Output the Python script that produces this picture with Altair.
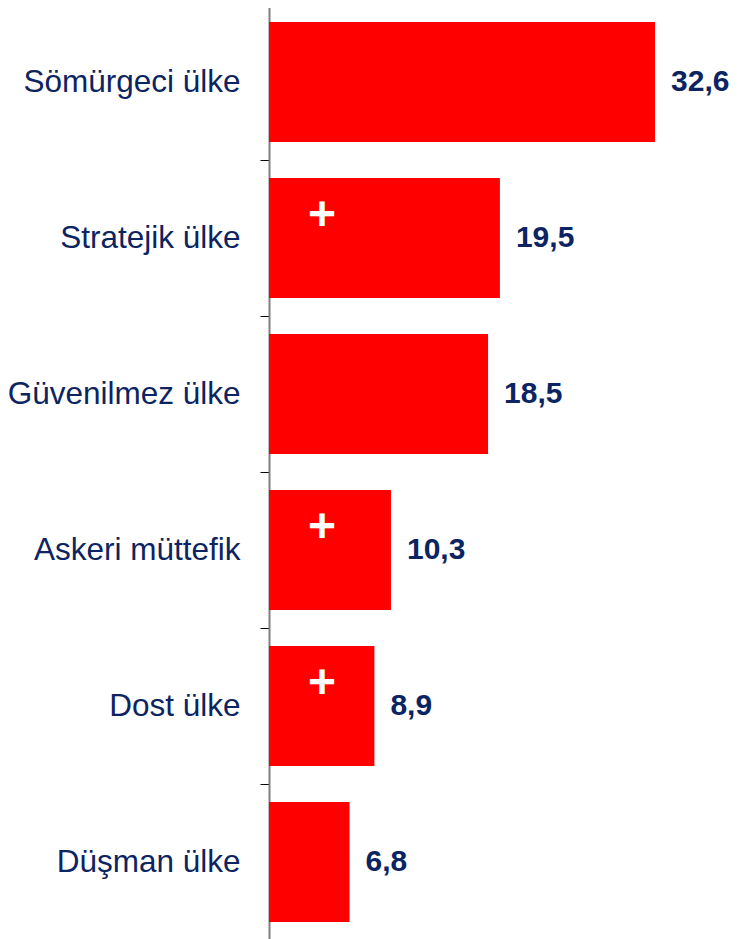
import altair as alt
import pandas as pd

categories = ["Sömürgeci ülke", "Stratejik ülke", "Güvenilmez ülke",
              "Askeri müttefik", "Dost ülke", "Düşman ülke"]
values = [32.6, 19.5, 18.5, 10.3, 8.9, 6.8]
labels = ["32,6", "19,5", "18,5", "10,3", "8,9", "6,8"]
plus_flags = [False, True, False, True, True, False]

df = pd.DataFrame({"cat": categories, "val": values, "lab": labels,
                   "plus": ["+" if p else "" for p in plus_flags]})

FONT = "Liberation Sans"
NAVY = "#0c2461"

y_enc = alt.Y("cat:N", sort=categories, title=None,
              scale=alt.Scale(range=[-4, 932], paddingInner=0, paddingOuter=0),
              axis=alt.Axis(tickBand="extent", tickSize=9, tickColor="#000000",
                            tickWidth=1, domainColor="#7f7f7f", domainWidth=2,
                            labelFont=FONT, labelFontSize=31.5, labelColor=NAVY,
                            labelPadding=20, labelLimit=400, grid=False))
x_enc = alt.X("val:Q", scale=alt.Scale(domain=[0, 38], nice=False), axis=None)

bars = alt.Chart(df).mark_bar(color="#ff0000", height=alt.RelativeBandSize(0.77)).encode(
    x=x_enc, y=y_enc)

vals = alt.Chart(df).mark_text(align="left", baseline="middle", dx=16, font=FONT,
                               fontSize=30, fontWeight="bold", color=NAVY).encode(
    x="val:Q", y=alt.Y("cat:N", sort=categories), text="lab:N")

plus = alt.Chart(df).mark_text(align="center", baseline="middle", dx=53, dy=-22,
                               font=FONT, fontSize=48, fontWeight="bold",
                               color="#ffffff").encode(
    x=alt.datum(0), y=alt.Y("cat:N", sort=categories), text="plus:N")

chart = alt.layer(bars, vals, plus).properties(
    width=450, height=931,
    autosize=alt.AutoSizeParams(type="none"),
    padding={"left": 261, "top": 0, "right": 12, "bottom": 0},
).configure_view(stroke=None)

chart.save("out.html", embed_options={"renderer": "svg", "actions": False})
